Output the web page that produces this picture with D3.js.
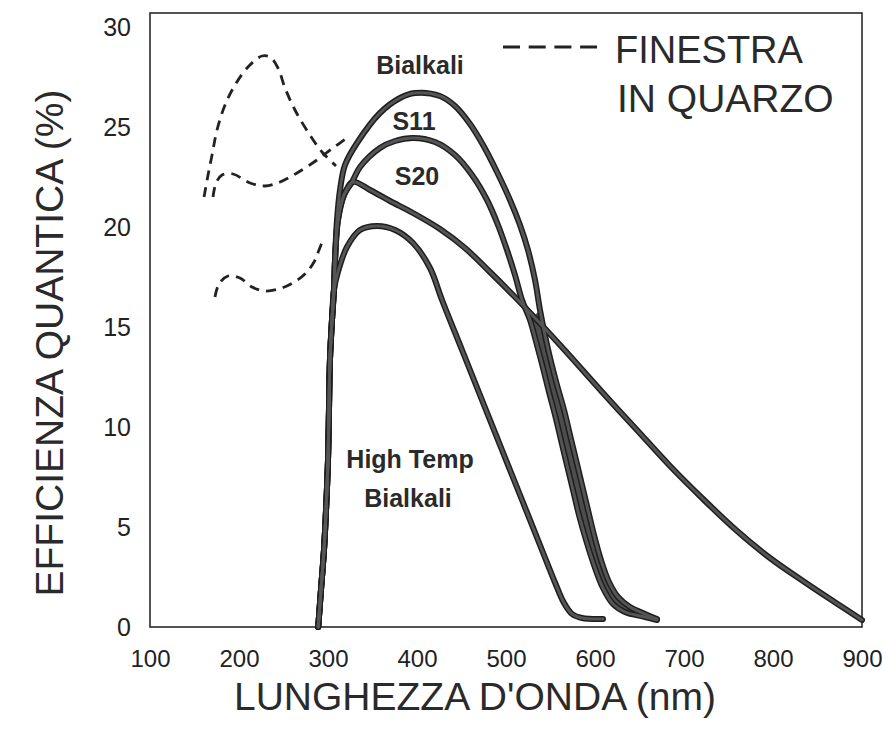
<!DOCTYPE html>
<html><head><meta charset="utf-8">
<script src="https://cdn.jsdelivr.net/npm/d3@7"></script>
<style>body{margin:0;background:#fff}svg{display:block}</style></head>
<body><svg id="c" width="883" height="741"></svg>
<script>
// ---- data (wavelength nm, quantum efficiency %) ----
const xTicks = [100, 200, 300, 400, 500, 600, 700, 800, 900];
const yTicks = [0, 5, 10, 15, 20, 25, 30];

const highTempBialkali = [[289,0],[292.1,1.85],[295.5,3.85],[297.8,5.85],[300,8.35],[301.1,10.85],[302.2,13.35],[304.5,15.35],[306.7,16.85],
  [311.2,17.75],[321.3,19.0],[336,19.85],[355.1,20.05],[375.3,19.85],[395.5,19.2],[414.6,17.95],[428.1,16.35],
  [450.6,13.85],[473,11.35],[495.5,8.85],[518,6.35],[540.4,3.85],[556.2,2.1],[565.2,1.2],[574.2,0.65],[585.4,0.45],[609,0.4]];

const bialkali = [[289,0],[292.1,1.85],[295.5,3.85],[297.8,5.85],[300,8.35],[301.1,10.85],[302.2,13.35],[304.5,15.35],[306.7,16.85],
  [307.9,18.35],[310.1,20.35],[313.5,21.85],[319.1,23.1],[332.6,24.2],[358.4,25.7],[380.9,26.45],[397.8,26.7],
  [425.8,26.55],[442.7,26.05],[459.6,25.15],[474.2,24.1],[489.9,22.75],[504.5,21.35],[515.7,20.1],[524.7,18.85],
  [532.6,17.35],[538.2,15.85],[544.9,14.35],[550.6,13.25],[557.3,12.1],[565.2,10.85],[571.9,9.6],[578.7,8.35],
  [585.4,7.1],[592.1,5.85],[598.9,4.6],[606.7,3.35],[615.7,2.25],[625.8,1.5],[639.3,1.0],[656.2,0.65],[669.7,0.4]];

const s11 = [[289,0],[292.1,1.85],[295.5,3.85],[297.8,5.85],[300,8.35],[301.1,10.85],[302.2,13.35],[304.5,15.35],[306.7,16.85],
  [307.9,18.35],[311.2,20.35],[318,21.6],[327,22.25],[336,23.0],[358.4,23.95],[375.3,24.3],[395.5,24.45],
  [420.2,24.25],[442.7,23.6],[461.8,22.6],[478.7,21.35],[491,20.1],[501.1,18.85],[510.1,17.6],[518,16.35],
  [527,15.35],[534.8,14.1],[541.6,12.95],[548.3,11.75],[555.1,10.6],[561.8,9.35],[568.5,8.1],[575.3,6.85],
  [582,5.6],[589.9,4.35],[598.9,3.1],[609,1.95],[620.2,1.15],[633.7,0.75],[656.2,0.5],[669.7,0.35]];

const s20 = [[289,0],[292.1,1.85],[295.5,3.85],[297.8,5.85],[300,8.35],[301.1,10.85],[302.2,13.35],[304.5,15.35],[306.7,16.85],
  [307.9,18.35],[311.2,20.35],[318,21.6],[328.1,22.25],[347.2,21.85],[369.7,21.3],[395.5,20.7],[425.8,19.9],
  [453.9,18.95],[482,17.75],[507.9,16.6],[534.8,15.35],[571.9,13.55],[609,11.7],[646.1,9.9],[684.3,8.05],
  [721.4,6.4],[758.4,4.85],[796.6,3.45],[833.7,2.3],[870.8,1.2],[900,0.35]];

// quartz-window curves (dashed)
const quartzA = [[160.7,21.5],[165.2,22.6],[169.7,23.6],[175.3,24.85],[184.3,26.1],[195.5,27.1],[210.1,28.0],
  [225.8,28.55],[234.8,28.5],[243.8,27.95],[251.7,26.95],[262.9,25.85],[277.5,24.75],[293.3,23.75],[309,23.05]];
const quartzB = [[170.8,21.5],[174.2,22.2],[180.9,22.6],[193.3,22.65],[212.4,22.2],[229.2,22.05],[246.1,22.25],
  [265.2,22.7],[287.6,23.35],[305.6,23.95],[321.3,24.45]];
const quartzC = [[173,16.5],[177.5,17.15],[187.6,17.55],[201.1,17.45],[214.6,17.0],[229.2,16.8],[248.3,16.95],
  [264,17.3],[275.3,17.7],[284.3,18.25],[289.9,18.85],[295.5,19.5]];

// ---- drawing ----
const svg = d3.select('#c');
const FONT = '"Liberation Sans", Arial, Helvetica, sans-serif';
const x = d3.scaleLinear().domain([100, 900]).range([150, 862]);
const y = d3.scaleLinear().domain([0, 30]).range([627, 27]);

svg.append('rect').attr('width', 883).attr('height', 741).attr('fill', '#fff');

// frame
svg.append('rect')
  .attr('x', x(100)).attr('y', y(30.7))
  .attr('width', x(900) - x(100)).attr('height', y(0) - y(30.7))
  .attr('fill', 'none').attr('stroke', '#2a2a2a').attr('stroke-width', 1.6);

// axes (labels only, no tick marks)
const xAxis = d3.axisBottom(x).tickValues(xTicks).tickSize(0).tickPadding(0);
const xa = svg.append('g').attr('transform', `translate(0,${y(0)})`).call(xAxis);
xa.select('.domain').remove();
xa.selectAll('text').attr('font-family', FONT).attr('font-size', 24).attr('fill', '#222')
  .attr('dy', null).attr('y', 40);

const yAxis = d3.axisLeft(y).tickValues(yTicks).tickSize(0).tickPadding(0);
const ya = svg.append('g').attr('transform', `translate(131,0)`).call(yAxis);
ya.select('.domain').remove();
ya.selectAll('text').attr('font-family', FONT).attr('font-size', 25).attr('fill', '#222')
  .attr('x', 0).attr('dy', '0.35em');

const line = d3.line().x(d => x(d[0])).y(d => y(d[1])).curve(d3.curveCatmullRom.alpha(0.5));

// shaded band between S11 and Bialkali below their crossing
const bandS11 = s11.filter(d => d[0] >= 527);
const bandBi = bialkali.filter(d => d[0] >= 538).slice().reverse();
svg.append('path')
  .attr('d', d3.line().x(d => x(d[0])).y(d => y(d[1])).curve(d3.curveCatmullRom.alpha(0.5))(bandS11.concat(bandBi)) + 'Z')
  .attr('fill', '#4d4d4d').attr('stroke', 'none');

// solid curves: dark outline + grey core
const solid = [bialkali, s11, s20, highTempBialkali];
solid.forEach(s => {
  svg.append('path').attr('d', line(s)).attr('fill', 'none')
    .attr('stroke', '#1e1e1e').attr('stroke-width', 6).attr('stroke-linejoin', 'round').attr('stroke-linecap', 'round');
});
solid.forEach(s => {
  svg.append('path').attr('d', line(s)).attr('fill', 'none')
    .attr('stroke', '#555').attr('stroke-width', 3).attr('stroke-linejoin', 'round').attr('stroke-linecap', 'round');
});

// dashed curves
[quartzA, quartzB, quartzC].forEach(s => {
  svg.append('path').attr('d', line(s)).attr('fill', 'none')
    .attr('stroke', '#222').attr('stroke-width', 2.8).attr('stroke-dasharray', '10,7');
});

// legend
svg.append('line').attr('x1', 503).attr('x2', 597).attr('y1', 47).attr('y2', 47)
  .attr('stroke', '#222').attr('stroke-width', 3).attr('stroke-dasharray', '17,8.7');
svg.append('text').attr('x', 615).attr('y', 63).text('FINESTRA')
  .attr('font-family', FONT).attr('font-size', 38).attr('fill', '#2a2a2a');
svg.append('text').attr('x', 617).attr('y', 112).text('IN QUARZO')
  .attr('font-family', FONT).attr('font-size', 39).attr('fill', '#2a2a2a');

// curve labels
const lab = (t, cx, by) => svg.append('text').attr('x', cx).attr('y', by).attr('text-anchor', 'middle')
  .attr('font-family', FONT).attr('font-weight', 'bold').attr('font-size', 25).attr('fill', '#2a2a2a').text(t);
lab('Bialkali', 420, 74);
lab('S11', 414, 130);
lab('S20', 417, 185);
lab('High Temp', 410, 468);
lab('Bialkali', 408, 507);

// axis titles
svg.append('text').attr('x', 475).attr('y', 710).attr('text-anchor', 'middle')
  .attr('font-family', FONT).attr('font-size', 39).attr('fill', '#2a2a2a').text("LUNGHEZZA D'ONDA (nm)");
svg.append('text').attr('transform', 'translate(63,343) rotate(-90)').attr('text-anchor', 'middle')
  .attr('font-family', FONT).attr('font-size', 39).attr('fill', '#2a2a2a').text('EFFICIENZA QUANTICA (%)');
</script></body></html>
